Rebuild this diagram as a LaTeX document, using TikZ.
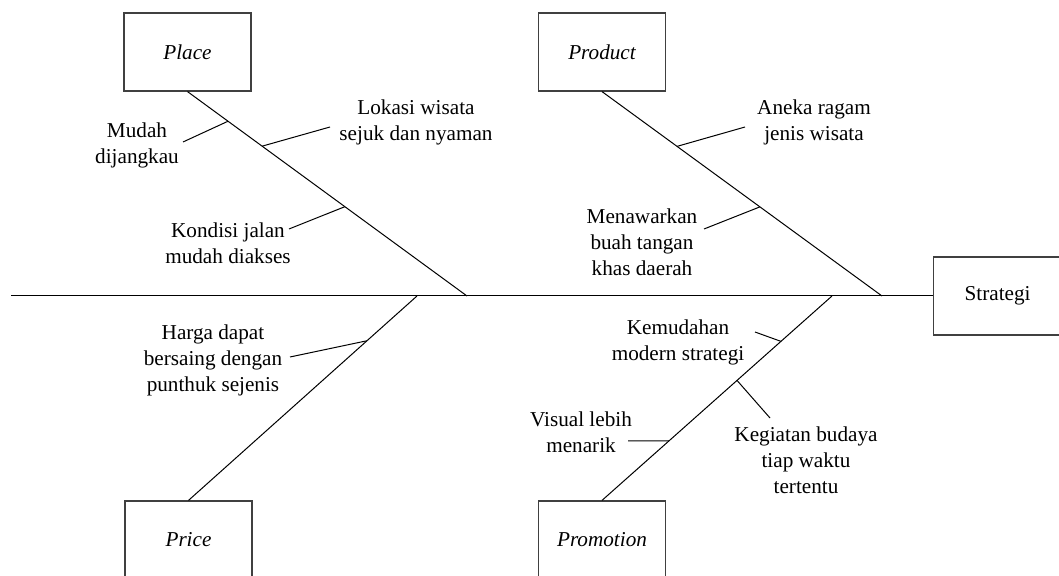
\documentclass[tikz,border=0pt]{standalone}
\usepackage{fontspec}
\setmainfont{Liberation Serif}
\usetikzlibrary{calc,positioning}

\begin{document}
\begin{tikzpicture}[
  x=0.5pt, y=-0.5pt,
  cat/.style={draw=black!75, line width=0.6pt, minimum width=63.5pt,
              minimum height=39pt, inner sep=0pt,
              font=\fontsize{10.6}{13}\selectfont\itshape},
  cause/.style={align=center, inner sep=1pt,
                font=\fontsize{10.6}{13}\selectfont},
  bone/.style={line width=0.5pt}
]
  \useasboundingbox (0,0) rectangle (1059,576);
  \clip (0,0) rectangle (1059,576);
  %% Head and spine
  \node[cat, font=\fontsize{10.6}{13}\selectfont, minimum width=68pt,
        anchor=west] (strategi) at (933,296) {\hspace*{-4pt}Strategi};
  \coordinate (tail) at (11,296);
  \draw[bone] (tail) -- (strategi.west);
  %% Category boxes
  \node[cat] (place)     at (187.5,52) {Place};
  \node[cat] (product)   at (602,52)   {Product};
  \node[cat] (price)     at (188.5,540) {Price};
  \node[cat] (promotion) at (602,540)  {Promotion};
  %% Main bones
  \coordinate (placeJ) at (467,296);
  \coordinate (productJ) at (882,296);
  \coordinate (priceJ) at (417,296);
  \coordinate (promoJ) at (832,296);
  \draw[bone] (place.south) -- (placeJ);
  \draw[bone] (product.south) -- (productJ);
  \draw[bone] (price.north) -- (priceJ);
  \draw[bone] (promotion.north) -- (promoJ);
  %% Points on the bones
  \coordinate (plA) at ($(place.south)!0.145!(placeJ)$);
  \coordinate (plB) at ($(place.south)!0.267!(placeJ)$);
  \coordinate (plC) at ($(place.south)!0.563!(placeJ)$);
  \coordinate (prA) at ($(product.south)!0.268!(productJ)$);
  \coordinate (prB) at ($(product.south)!0.564!(productJ)$);
  \coordinate (piA) at ($(price.north)!0.781!(priceJ)$);
  \coordinate (poA) at ($(promotion.north)!0.778!(promoJ)$);
  \coordinate (poB) at ($(promotion.north)!0.587!(promoJ)$);
  \coordinate (poC) at ($(promotion.north)!0.291!(promoJ)$);
  %% Causes: Place
  \node[cause] (mudah) at (137,145) {Mudah\\dijangkau};
  \coordinate (mudahT) at (183,142);
  \draw[bone] (mudahT) -- (plA);
  \node[cause] (lokasi) at (416,122) {Lokasi wisata\\sejuk dan nyaman};
  \coordinate (lokasiT) at (330,127);
  \draw[bone] (lokasiT) -- (plB);
  \node[cause] (kondisi) at (228,243) {Kondisi jalan\\mudah diakses};
  \coordinate (kondisiT) at (289,229);
  \draw[bone] (kondisiT) -- (plC);
  %% Causes: Product
  \node[cause] (aneka) at (814,122) {Aneka ragam\\jenis wisata};
  \coordinate (anekaT) at (745,127);
  \draw[bone] (anekaT) -- (prA);
  \node[cause] (menawarkan) at (642,242) {Menawarkan\\buah tangan\\khas daerah};
  \coordinate (menawarkanT) at (704,229);
  \draw[bone] (menawarkanT) -- (prB);
  %% Causes: Price
  \node[cause] (harga) at (213,360) {Harga dapat\\bersaing dengan\\punthuk sejenis};
  \coordinate (hargaT) at (290,357);
  \draw[bone] (hargaT) -- (piA);
  %% Causes: Promotion
  \node[cause] (kemudahan) at (678,342) {Kemudahan\\modern strategi};
  \coordinate (kemudahanT) at (755,332);
  \draw[bone] (kemudahanT) -- (poA);
  \node[cause] (kegiatan) at (806,460) {Kegiatan budaya\\tiap waktu\\tertentu};
  \coordinate (kegiatanT) at (770,418);
  \draw[bone] (kegiatanT) -- (poB);
  \node[cause] (visual) at (581,432) {Visual lebih\\menarik};
  \coordinate (visualT) at (628,441);
  \draw[bone] (visualT) -- (poC);
\end{tikzpicture}
\end{document}
